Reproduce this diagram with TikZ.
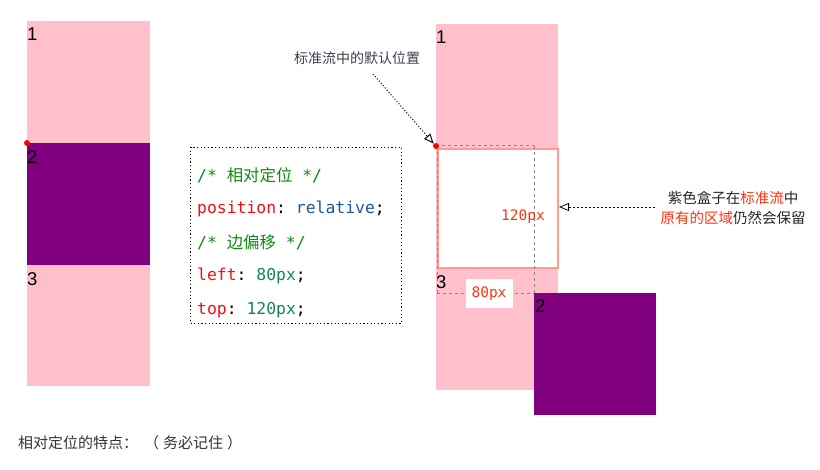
\documentclass[tikz,border=0pt]{standalone}
\usepackage{fontspec}
\setmainfont{Liberation Sans}
\setmonofont{DejaVu Sans Mono}
\newfontfamily\cjk{Noto Sans CJK SC}
\usetikzlibrary{arrows.meta}
\definecolor{boxpink}{HTML}{FFC0CB}
\definecolor{boxpurple}{HTML}{800080}
\definecolor{coral}{HTML}{FF9A92}
\definecolor{hlred}{HTML}{FF3311}
\definecolor{cgreen}{HTML}{118811}
\definecolor{cred}{HTML}{EE1111}
\definecolor{cblue}{HTML}{1A55A5}
\definecolor{cteal}{HTML}{11885A}
\definecolor{anno}{HTML}{3A4050}
\definecolor{guide}{HTML}{888888}
\tikzset{
  box/.style={inner sep=0pt, outer sep=0pt, anchor=north west, minimum width=#1},
  num/.style={anchor=north west, inner sep=0pt, font=\fontsize{18.5}{18.5}\selectfont, text=black},
  codeline/.style={anchor=west, inner sep=0pt, font=\ttfamily\fontsize{16.4}{16.4}\selectfont},
  reddot/.style={circle, fill=red, inner sep=0pt, minimum size=6pt},
  guideline/.style={guide, dash pattern=on 3pt off 3pt, line width=0.8pt},
  opentip/.style={-{Triangle[open, length=10pt, width=8pt]}},
}
\begin{document}
\begin{tikzpicture}[x=1pt,y=-1pt]
\useasboundingbox (0,0) rectangle (820,470);
% left column
\node[box=123pt, minimum height=122pt, fill=boxpink] (l1) at (27,21) {};
\node[box=123pt, minimum height=122pt, fill=boxpurple] (l2) at (27,143) {};
\node[box=123pt, minimum height=121pt, fill=boxpink] (l3) at (27,265) {};
\node[num] (n1) at (27,28) {1};
\node[num] (n2) at (27,150) {2};
\node[num] (n3) at (27,272) {3};
\node[reddot] (ld) at (27,143) {};
% code box
\node[draw, dash pattern=on 1.2pt off 2.4pt, line width=1pt, anchor=north west, minimum width=211pt, minimum height=176pt, inner sep=0pt] (code) at (190,147) {};
\node[codeline, text=cgreen] (c1) at (197,175) {/*\ {\cjk 相对定位}\ */};
\node[codeline] (c2) at (197,209) {\textcolor{cred}{position}: \textcolor{cblue}{relative};};
\node[codeline, text=cgreen] (c3) at (197,242) {/*\ {\cjk 边偏移}\ */};
\node[codeline] (c4) at (197,276) {\textcolor{cred}{left}: \textcolor{cteal}{80px};};
\node[codeline] (c5) at (197,310) {\textcolor{cred}{top}: \textcolor{cteal}{120px};};
% right column
\node[box=122pt, minimum height=366pt, fill=boxpink] (rcol) at (436,24) {};
\node[draw=coral, line width=2pt, fill=white, anchor=north west, minimum width=120pt, minimum height=119pt, inner sep=0pt] (ghost) at (437,148) {};
\draw[guideline] (436,145) -- (534,145);
\draw[guideline] (534,146) -- (534,293);
\draw[guideline] (437,146) -- (437,293);
\draw[guideline] (437,293) -- (534,293);
\node[box=122pt, minimum height=122pt, fill=boxpurple] (r2) at (534,293) {};
\node[num] (m1) at (436,31) {1};
\node[num] (m3) at (436,275) {3};
\node[num] (m2) at (535,299) {2};
\node[reddot] (rd) at (436,146) {};
\node[font=\ttfamily\fontsize{14.5}{14.5}\selectfont, text=hlred, inner sep=0pt] (v120) at (523,217) {120px};
\node[fill=white, minimum width=47pt, minimum height=29pt, inner sep=0pt, font=\ttfamily\fontsize{14.5}{14.5}\selectfont, text=hlred] (v80) at (489,294) {80px};
% annotations
\node[font=\cjk\fontsize{14}{14}\selectfont, text=anno, inner sep=0pt] (a1) at (357,58) {标准流中的默认位置};
\coordinate (a1s) at (373,74);
\draw[opentip, dotted, line width=1pt] (a1s) -- (rd.north west);
\node[font=\cjk\fontsize{14.5}{20}\selectfont, text=black!85, align=center, inner sep=0pt] (a2) at (733,208) {紫色盒子在\textcolor{hlred}{标准流}中\\\textcolor{hlred}{原有的区域}仍然会保留};
\coordinate (a2s) at (655,207);
\draw[opentip, dash pattern=on 2pt off 2pt, line width=0.8pt] (a2s) -- (559,207);
\node[font=\cjk\fontsize{15}{15}\selectfont, text=black!80, anchor=west, inner sep=0pt] (foot) at (18,443) {相对定位的特点：\hspace{6pt}（\hspace{4pt}务必记住\hspace{4pt}）};
\end{tikzpicture}
\end{document}
